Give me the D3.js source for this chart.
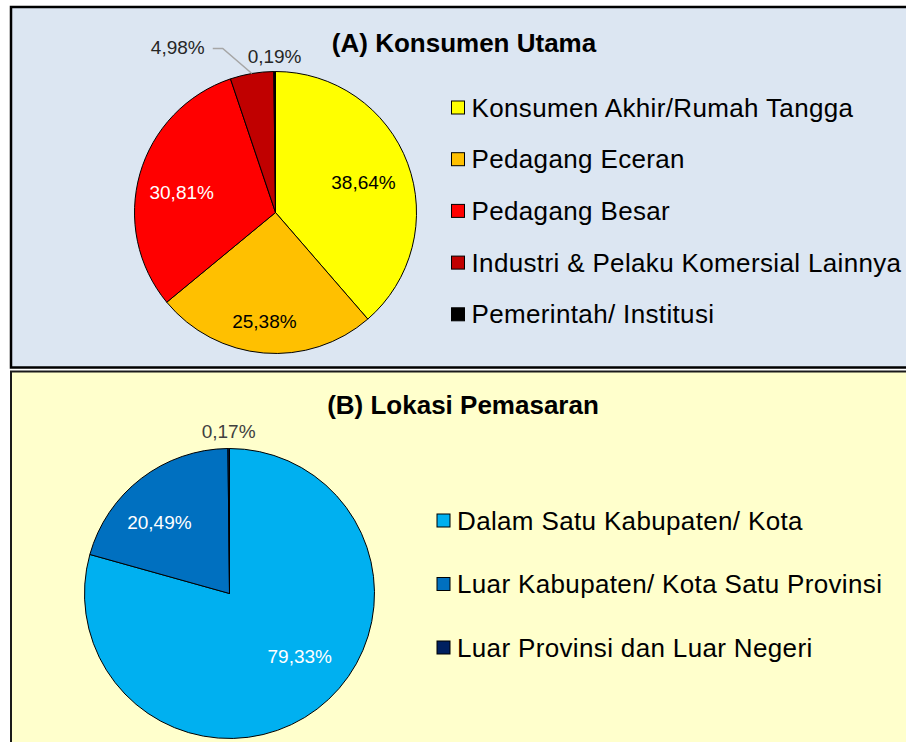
<!DOCTYPE html>
<html>
<head>
<meta charset="utf-8">
<script src="https://cdn.jsdelivr.net/npm/d3@7"></script>
<style>
  html, body { margin: 0; padding: 0; background: #ffffff; }
  svg { display: block; font-family: "Liberation Sans", Arial, sans-serif; }
</style>
</head>
<body>
<svg id="chart" width="906" height="742"></svg>
<script>
// ---- Data ----
const titleA = "(A) Konsumen Utama";
const categoriesA = ["Konsumen Akhir/Rumah Tangga", "Pedagang Eceran", "Pedagang Besar", "Industri & Pelaku Komersial Lainnya", "Pemerintah/ Institusi"];
const valuesA = [38.64, 25.38, 30.81, 4.98, 0.19];
const labelsA = ["38,64%", "25,38%", "30,81%", "4,98%", "0,19%"];

const titleB = "(B) Lokasi Pemasaran";
const categoriesB = ["Dalam Satu Kabupaten/ Kota", "Luar Kabupaten/ Kota Satu Provinsi", "Luar Provinsi dan Luar Negeri"];
const valuesB = [79.33, 20.49, 0.17];
const labelsB = ["79,33%", "20,49%", "0,17%"];

// ---- Styles / layout ----
const colorsA = ["#FFFF00", "#FFC000", "#FF0000", "#C00000", "#000000"];
const colorsB = ["#00B0F0", "#0070C0", "#002060"];
const labelColorsA = ["#000000", "#000000", "#FFFFFF", "#262626", "#262626"];
const labelColorsB = ["#FFFFFF", "#FFFFFF", "#404040"];
// label placement: [radius ratio, angle offset (deg)]
const labelPlaceA = [[0.66, 1.5], [0.78, 1], [0.68, -4], [1.36, -21], [1.107, 0]];
const labelPlaceB = [[0.65, -11], [0.69, -7], [1.12, 0]];

const svg = d3.select("#chart");

// Panels
svg.append("rect").attr("x", 11).attr("y", 7).attr("width", 930).attr("height", 360.5)
  .attr("fill", "#DCE6F2").attr("stroke", "#000").attr("stroke-width", 2.5);
svg.append("rect").attr("x", 11).attr("y", 371.5).attr("width", 930).attr("height", 400)
  .attr("fill", "#FFFFCC").attr("stroke", "#1a1a1a").attr("stroke-width", 2);

function drawPie(cfg) {
  const g = svg.append("g").attr("transform", `translate(${cfg.cx},${cfg.cy})`);
  const pie = d3.pie().sort(null).value(d => d);
  const arcs = pie(cfg.values);
  const arc = d3.arc().innerRadius(0).outerRadius(cfg.r);
  g.selectAll("path.slice").data(arcs).join("path")
    .attr("class", "slice")
    .attr("d", arc)
    .attr("fill", (d, i) => cfg.colors[i])
    .attr("stroke", "#000")
    .attr("stroke-width", 1)
    .attr("stroke-linejoin", "round");

  arcs.forEach((d, i) => {
    const mid = (d.startAngle + d.endAngle) / 2 + cfg.place[i][1] * Math.PI / 180;
    const rr = cfg.r * cfg.place[i][0];
    const x = Math.sin(mid) * rr, y = -Math.cos(mid) * rr;
    if (cfg.leader && cfg.leader[i]) {
      const m = (d.startAngle + d.endAngle) / 2;
      const ex = Math.sin(m) * cfg.r, ey = -Math.cos(m) * cfg.r;
      const lx = x + 35, ly = y + 1;
      g.append("polyline")
        .attr("points", `${lx},${ly} ${lx + 10},${ly} ${ex},${ey}`)
        .attr("fill", "none").attr("stroke", "#A6A6A6").attr("stroke-width", 1.5);
    }
    g.append("text")
      .attr("x", x).attr("y", y)
      .attr("text-anchor", "middle")
      .attr("dominant-baseline", "central")
      .attr("font-size", 19)
      .attr("fill", cfg.labelColors[i])
      .text(cfg.labels[i]);
  });

  svg.append("text")
    .attr("x", cfg.titleX).attr("y", cfg.titleY)
    .attr("text-anchor", "middle")
    .attr("font-size", 26).attr("font-weight", "bold")
    .attr("fill", "#000")
    .text(cfg.title);

  const lg = svg.append("g");
  cfg.categories.forEach((c, i) => {
    const cy = cfg.legY + i * cfg.legStep;
    lg.append("rect")
      .attr("x", cfg.legX).attr("y", cy - 6.5).attr("width", 13).attr("height", 13)
      .attr("fill", cfg.colors[i]).attr("stroke", "#000").attr("stroke-width", 1);
    lg.append("text")
      .attr("x", cfg.legX + 20).attr("y", cy + 9)
      .attr("font-size", 26).attr("letter-spacing", 0.35).attr("fill", "#000")
      .text(c);
  });
}

drawPie({
  cx: 275.5, cy: 212.5, r: 141,
  values: valuesA, colors: colorsA, labels: labelsA, labelColors: labelColorsA,
  place: labelPlaceA, leader: [false, false, false, true, false],
  title: titleA, titleX: 464, titleY: 52,
  categories: categoriesA, legX: 451.5, legY: 107.5, legStep: 51.7
});

drawPie({
  cx: 229.5, cy: 593.5, r: 145,
  values: valuesB, colors: colorsB, labels: labelsB, labelColors: labelColorsB,
  place: labelPlaceB, leader: null,
  title: titleB, titleX: 463, titleY: 414,
  categories: categoriesB, legX: 437, legY: 520.5, legStep: 63.5
});
</script>
</body>
</html>
